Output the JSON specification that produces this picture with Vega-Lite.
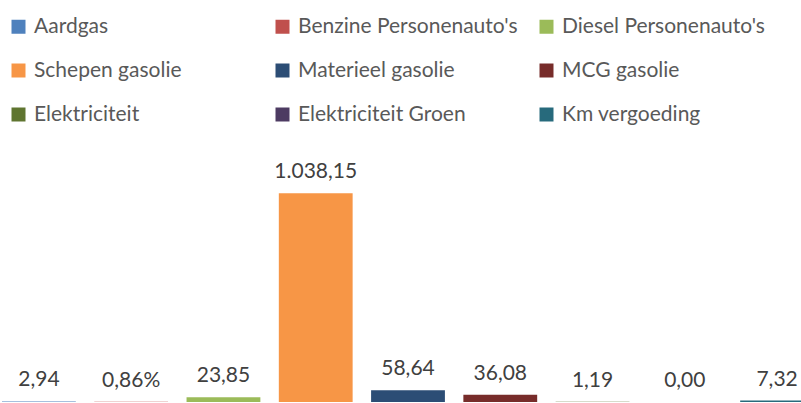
{
  "$schema": "https://vega.github.io/schema/vega-lite/v6.json",
  "width": 801,
  "height": 402,
  "autosize": {"type": "none"},
  "padding": {"left": 0, "top": 0, "right": 0, "bottom": 0},
  "background": "white",
  "config": {"view": {"stroke": null}, "font": "Lato"},
  "data": {
    "values": [
      {"cat": "Aardgas", "value": 2.94, "label": "2,94"},
      {"cat": "Benzine Personenauto's", "value": 0.86, "label": "0,86%"},
      {"cat": "Diesel Personenauto's", "value": 23.85, "label": "23,85"},
      {"cat": "Schepen gasolie", "value": 1038.15, "label": "1.038,15"},
      {"cat": "Materieel gasolie", "value": 58.64, "label": "58,64"},
      {"cat": "MCG gasolie", "value": 36.08, "label": "36,08"},
      {"cat": "Elektriciteit", "value": 1.19, "label": "1,19"},
      {"cat": "Elektriciteit Groen", "value": 0.0, "label": "0,00"},
      {"cat": "Km vergoeding", "value": 7.32, "label": "7,32"}
    ]
  },
  "encoding": {
    "x": {
      "field": "cat",
      "type": "nominal",
      "sort": null,
      "axis": null,
      "scale": {"range": [2, 814], "paddingInner": 0.2, "paddingOuter": 0}
    },
    "y": {
      "field": "value",
      "type": "quantitative",
      "axis": null,
      "scale": {"domain": [0, 2000], "nice": false}
    }
  },
  "layer": [
    {
      "mark": {"type": "bar"},
      "encoding": {
        "color": {
          "field": "cat",
          "type": "nominal",
          "sort": null,
          "scale": {
            "domain": ["Aardgas", "Benzine Personenauto's", "Diesel Personenauto's", "Schepen gasolie", "Materieel gasolie", "MCG gasolie", "Elektriciteit", "Elektriciteit Groen", "Km vergoeding"],
            "range": ["#4F81BD", "#C0504D", "#9BBB59", "#F79646", "#2C4D75", "#772C2A", "#5F7530", "#4D3B62", "#276A7C"]
          },
          "legend": {
            "title": null,
            "orient": "none",
            "direction": "horizontal",
            "legendX": 8,
            "legendY": 16,
            "columns": 3,
            "gridAlign": "all",
            "columnPadding": 18,
            "rowPadding": 22,
            "symbolType": "square",
            "symbolSize": 196,
            "symbolStrokeWidth": 0,
            "symbolOpacity": 1,
            "labelFontSize": 21,
            "labelFont": "Lato",
            "labelColor": "#595959",
            "labelOffset": 5,
            "labelLimit": 400
          }
        }
      }
    },
    {
      "mark": {"type": "text", "baseline": "middle", "align": "center", "dy": -21, "fontSize": 21, "font": "Lato", "color": "#404040"},
      "encoding": {"text": {"field": "label"}}
    }
  ]
}
